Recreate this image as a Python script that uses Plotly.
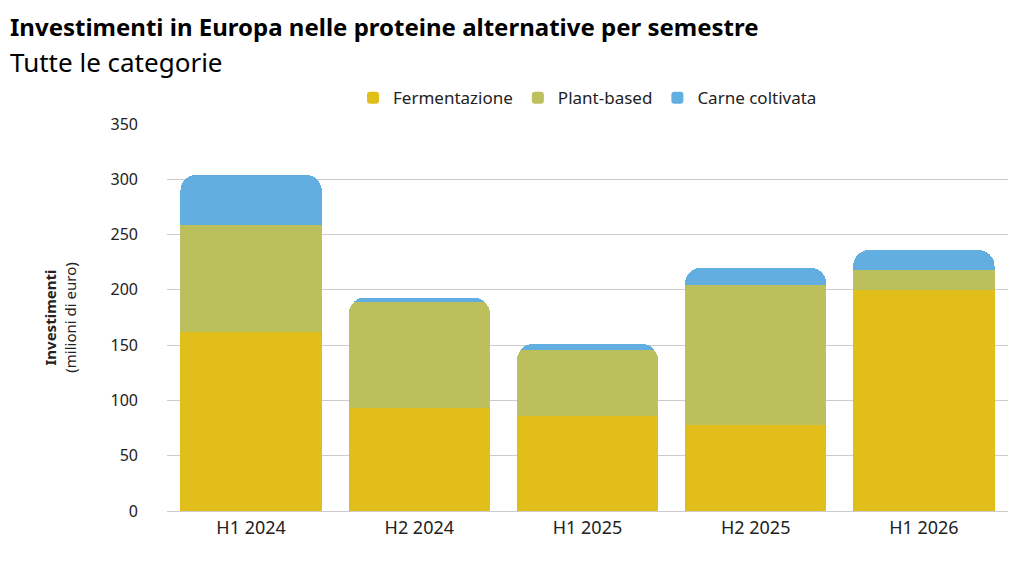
import plotly.graph_objects as go

semestri = ["H1 2024", "H2 2024", "H1 2025", "H2 2025", "H1 2026"]
fermentazione = [162, 93, 86, 78, 200]
plant_based = [97, 96, 60, 126, 18]
carne_coltivata = [45, 4, 5, 16, 18]

fig = go.Figure()
for name, vals, col in [("Fermentazione", fermentazione, "#E1BE1A"),
                        ("Plant-based", plant_based, "#BBBF5C"),
                        ("Carne coltivata", carne_coltivata, "#63AEE0")]:
    fig.add_bar(x=semestri, y=vals, name=name, marker_color=col, marker_line_width=0)

fig.update_layout(
    barmode="stack", bargap=0.16, barcornerradius=16,
    width=1024, height=576, plot_bgcolor="white", paper_bgcolor="white",
    font=dict(family="Noto Sans", size=16, color="#222"),
    legend=dict(orientation="h", x=0.5, xanchor="center", y=1.02, yanchor="bottom",
                font=dict(size=17), traceorder="normal"),
    margin=dict(l=159, r=24, t=116, b=73),
)
fig.add_annotation(text="<b>Investimenti in Europa nelle proteine alternative per semestre</b>",
                   xref="paper", yref="paper", x=-159 / 841, y=1 + 98 / 387,
                   xanchor="left", yanchor="middle", showarrow=False,
                   font=dict(size=24, color="black"))
fig.add_annotation(text="Tutte le categorie",
                   xref="paper", yref="paper", x=-159 / 841, y=1 + 62 / 387,
                   xanchor="left", yanchor="middle", showarrow=False,
                   font=dict(size=26, color="black"))
fig.update_yaxes(range=[0, 350], dtick=50, gridcolor="#cccccc", zeroline=False,
                 ticks="", ticklabelstandoff=28,
                 title=dict(text="<b>Investimenti</b><br>(milioni di euro)",
                            font=dict(size=15), standoff=30))
fig.update_xaxes(tickfont=dict(size=18), showline=True, linecolor="#cccccc")
fig.write_html("out.html")
